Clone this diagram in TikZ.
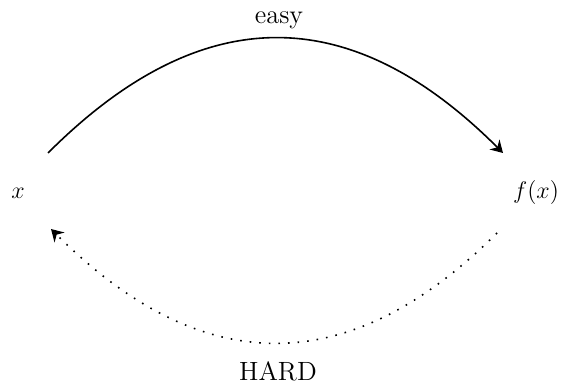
\documentclass[tikz,border=0pt]{standalone}
\usetikzlibrary{arrows.meta}
\begin{document}
\begin{tikzpicture}[x=0.5pt,y=-0.5pt,
  every node/.style={font=\fontsize{13.2}{16}\selectfont},
  lbl/.style={inner sep=0pt},
  tip/.style={-{Stealth[length=6pt,width=7pt,inset=2pt,sep=0pt]}},
  easyarrow/.style={thick,tip},
  hardarrow/.style={thick,loosely dotted,tip}]
\useasboundingbox (0,0) rectangle (562,383);
\node[lbl] (x) at (18,193) {$x$};
\node[lbl] (fx) at (536,193) {$f(x)$};
\node[lbl] (easy) at (279,20) {easy};
\node[lbl] (hard) at (278,371) {HARD};
\draw[easyarrow] ([shift={(30,-40)}]x.center) .. controls (201,0) and (350,0) .. ([shift={(-33,-40)}]fx.center);
\draw[hardarrow] ([shift={(-39,40)}]fx.center) .. controls (350,380) and (202,380) .. ([shift={(33,36)}]x.center);
\end{tikzpicture}
\end{document}
